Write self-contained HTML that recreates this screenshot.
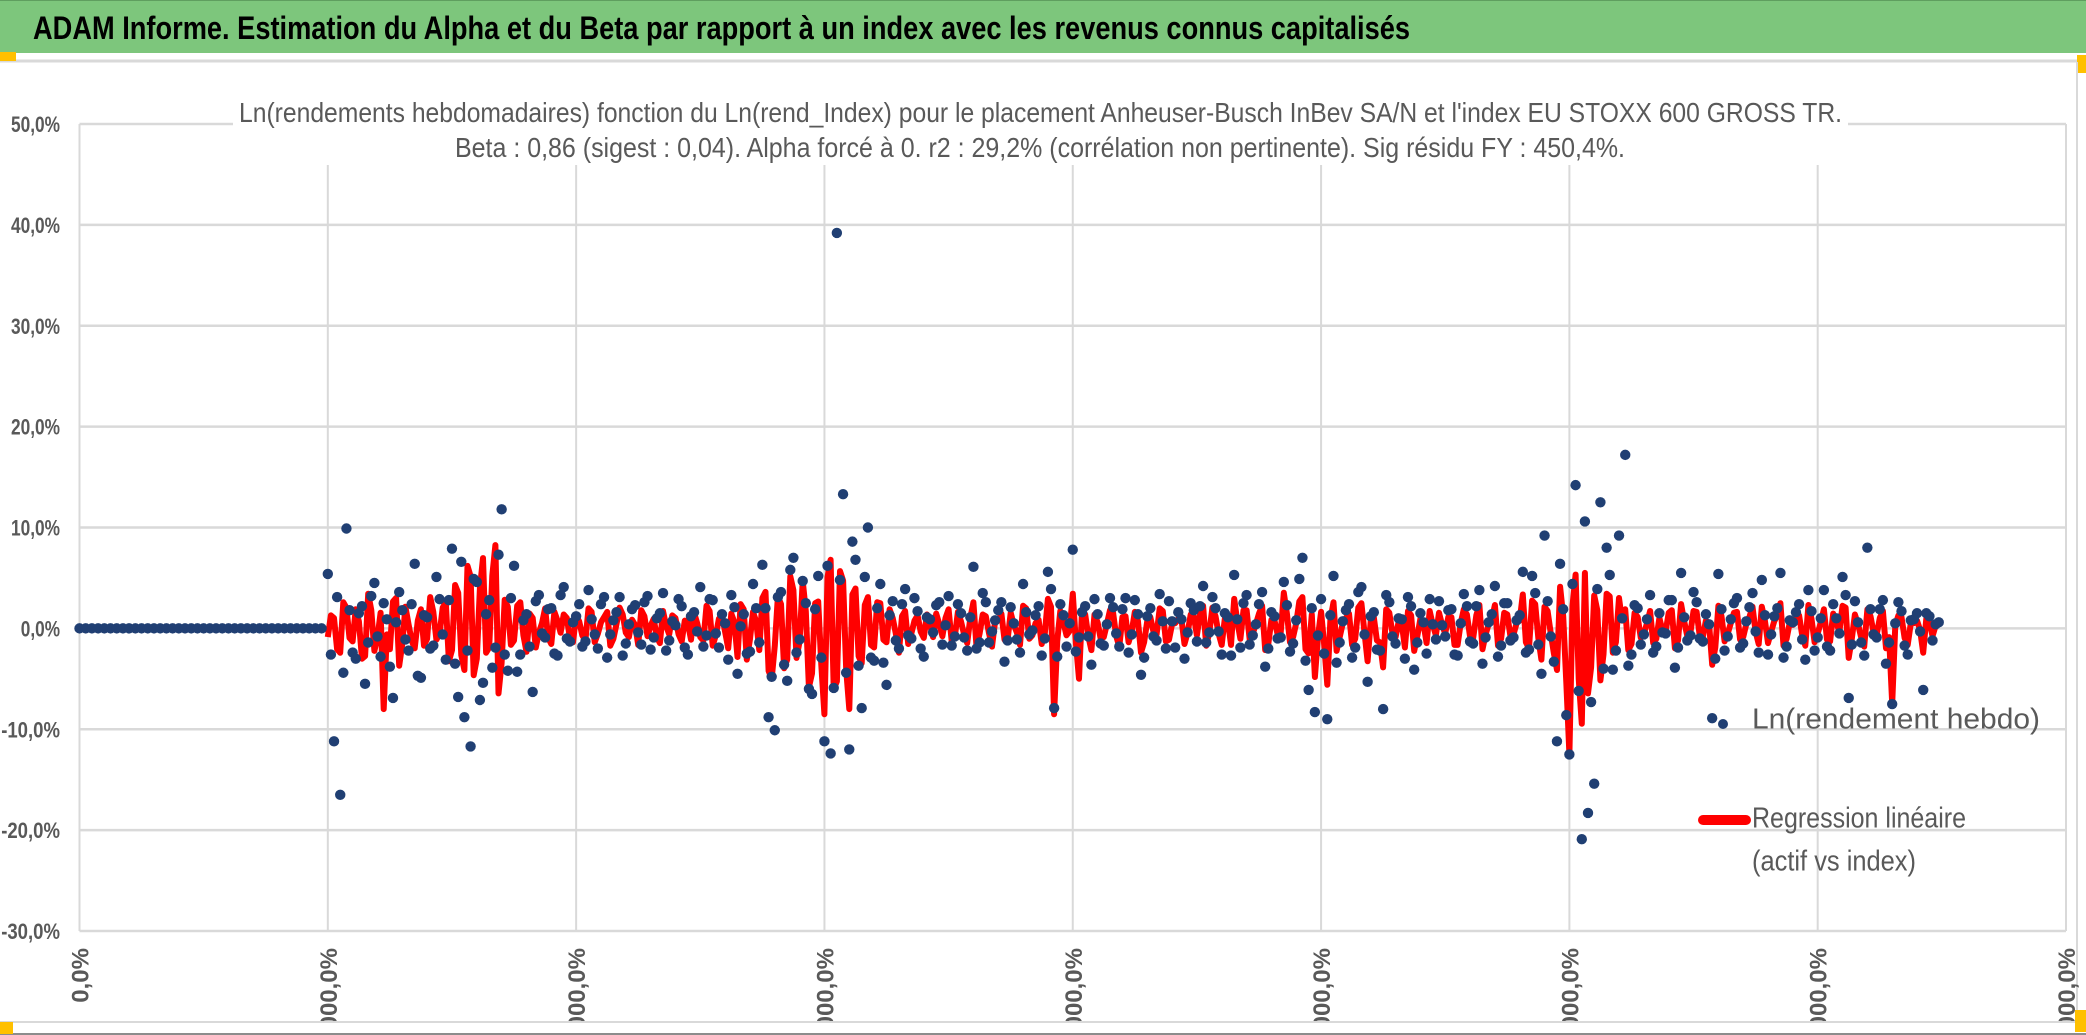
<!DOCTYPE html>
<html><head><meta charset="utf-8"><style>
html,body{margin:0;padding:0;background:#fff;}
svg{display:block;font-family:"Liberation Sans",sans-serif;}
</style></head><body>
<svg id="chart" width="2086" height="1035" viewBox="0 0 2086 1035">
<rect x="0" y="0" width="2086" height="1035" fill="#fff"/>
<rect x="0" y="0" width="2086" height="53" fill="#7dc67c"/>
<line x1="0" y1="0.5" x2="2086" y2="0.5" stroke="#5f9e5f" stroke-width="1"/>
<text x="33" y="39" font-size="32" font-weight="bold" fill="#000" textLength="1377" lengthAdjust="spacingAndGlyphs">ADAM Informe. Estimation du Alpha et du Beta par rapport à un index avec les revenus connus capitalisés</text>
<line x1="0" y1="61" x2="2086" y2="61" stroke="#d9d9d9" stroke-width="3"/>
<rect x="0" y="52" width="16" height="9" fill="#ffc000"/>
<rect x="2077" y="55" width="9" height="18" fill="#ffc000"/>
<rect x="0" y="1022" width="13" height="12" fill="#ffc000"/>
<rect x="2075" y="1010" width="11" height="22" fill="#ffc000"/>
<line x1="2077" y1="62" x2="2077" y2="1022" stroke="#d9d9d9" stroke-width="2"/>
<g id="grid"></g>
<g id="yaxis"></g>
<g id="xaxis"></g>
<g id="reg"></g>
<g id="pts"></g>
<rect x="233" y="85" width="1615" height="80" fill="#fff"/>
<text x="239" y="122" font-size="28" fill="#595959" textLength="1603" lengthAdjust="spacingAndGlyphs">Ln(rendements hebdomadaires) fonction du Ln(rend_Index) pour le placement Anheuser-Busch InBev SA/N et l'index EU STOXX 600 GROSS TR.</text>
<text x="455" y="157" font-size="28" fill="#595959" textLength="1170" lengthAdjust="spacingAndGlyphs">Beta : 0,86 (sigest : 0,04). Alpha forcé à 0. r2 : 29,2% (corrélation non pertinente). Sig résidu FY : 450,4%.</text>
<g>
<circle cx="1723" cy="724" r="5" fill="#203f73"/>
<text x="1752" y="721" dominant-baseline="middle" font-size="29" fill="#595959" textLength="288" lengthAdjust="spacingAndGlyphs">Ln(rendement hebdo)</text>
<line x1="1703" y1="820" x2="1746" y2="820" stroke="#ff0000" stroke-width="10" stroke-linecap="round"/>
<text x="1752" y="820" dominant-baseline="middle" font-size="29" fill="#595959" textLength="214" lengthAdjust="spacingAndGlyphs">Regression linéaire</text>
<text x="1752" y="863" dominant-baseline="middle" font-size="29" fill="#595959" textLength="164" lengthAdjust="spacingAndGlyphs">(actif vs index)</text>
</g>
<rect x="0" y="1023" width="2086" height="12" fill="#fff"/>
<line x1="0" y1="1022" x2="2086" y2="1022" stroke="#d9d9d9" stroke-width="2"/>
<line x1="0" y1="1034" x2="2086" y2="1034" stroke="#8c8c8c" stroke-width="2"/>
<rect x="0" y="1022" width="13" height="12" fill="#ffc000"/>
<rect x="2075" y="1010" width="11" height="22" fill="#ffc000"/>
</svg>
<script>
const yTicks = [50,40,30,20,10,0,-10,-20,-30];
const yTickLabels = ["50,0%","40,0%","30,0%","20,0%","10,0%","0,0%","-10,0%","-20,0%","-30,0%"];
const xTicks = [0,1,2,3,4,5,6,7,8];
const xTickLabels = ["0,0%","1000,0%","2000,0%","3000,0%","4000,0%","5000,0%","6000,0%","7000,0%","8000,0%"];
const weeksPerUnit = 40;
const assetReturns = [
0,0,0,0,0,0,0,0,0,0,0,0,0,0,0,0,0,0,0,0,0,0,0,0,0,0,0,0,0,0,0,0,0,0,0,0,0,0,0,0,
5.4,-11.2,-16.5,9.9,-2.4,1.5,-5.5,3.2,-0.8,2.5,-3.8,0.6,1.8,-2.2,6.4,-4.9,1.1,-1.7,2.9,-3.1,
7.9,-6.8,-8.8,-11.7,4.6,-5.4,2.8,-1.9,11.8,-4.2,6.2,-2.6,1.4,-6.3,3.3,-0.9,2.0,-2.7,4.1,-1.3,
1.2,-1.8,3.8,-0.6,2.4,-2.9,0.8,3.1,-1.5,1.9,-0.4,2.6,-2.1,1.0,3.5,-1.2,0.3,2.2,-2.6,1.6,
4.1,-0.7,2.8,-1.9,0.5,3.3,-4.5,1.4,-2.3,2.0,6.3,-8.8,-10.1,3.6,-5.2,7.0,-1.1,2.5,-6.5,5.2,
-11.2,-12.4,39.2,13.3,-12.0,6.8,-7.9,10.0,-3.2,4.4,-5.6,2.7,-2.0,3.9,-1.0,1.7,-2.8,0.9,2.3,-1.6,
3.2,-0.8,1.5,-2.2,6.1,-1.4,2.6,-0.3,1.8,-3.3,2.1,-1.1,4.4,-0.6,1.3,-2.7,5.6,-7.9,2.4,-1.8,
7.8,-0.9,2.2,-3.6,1.4,-1.7,3.0,-0.5,1.9,-2.4,2.8,-4.6,1.2,-0.8,3.4,-2.0,0.7,1.6,-3.0,2.5,
-1.3,4.2,-0.4,2.0,-2.6,1.1,5.3,-1.9,3.3,-0.7,2.4,-3.8,1.6,-1.0,4.6,-2.3,0.8,7.0,-6.1,-8.3,
2.9,-9.0,5.2,-1.4,1.8,-2.9,3.6,-0.6,1.2,-2.1,-8.0,2.6,-1.5,0.9,3.1,-4.1,1.5,-2.5,0.4,2.7,
-0.8,1.9,-2.7,3.4,-1.3,2.2,-3.5,0.6,4.2,-1.7,2.5,-0.9,1.3,-2.4,5.2,-1.6,9.2,-0.8,-11.2,1.9,
-12.5,14.2,-20.9,-18.3,-15.4,12.5,8.0,-4.1,9.2,17.2,-2.6,2.0,-0.6,3.3,-1.8,-0.4,2.8,-3.9,5.5,-1.2,
3.6,-1.0,1.4,-8.9,5.4,-2.2,0.9,3.0,-1.5,2.1,-0.3,4.8,-2.6,1.2,5.5,-1.8,0.6,2.4,-3.1,1.7,
-0.9,3.8,-2.2,1.0,5.1,-6.9,2.7,-1.4,8.0,-0.6,1.9,-3.5,-7.5,2.6,-1.7,0.8,1.5,-6.1,1.2,0.4
];
const assetReturnsMidweek = [
-2.6,3.1,-4.4,1.8,-3.0,2.2,-1.4,4.5,-2.8,0.9,-6.9,3.6,-1.1,2.4,-4.7,1.3,-2.0,5.1,-0.6,2.8,
-3.5,6.6,-2.2,4.9,-7.1,1.4,-3.9,7.3,-2.6,3.0,-4.3,0.8,-1.8,2.7,-0.5,1.9,-2.5,3.3,-1.0,0.6,
2.4,-1.3,0.9,-2.0,3.1,-0.6,1.6,-2.7,0.4,2.3,-1.6,3.2,-0.9,1.5,-2.2,0.7,2.9,-1.9,1.2,-0.3,
-1.8,2.9,-0.5,1.4,-3.1,2.1,0.2,-2.5,4.4,-1.4,2.0,-4.8,3.1,-3.6,5.8,-2.4,4.7,-6.0,1.9,-2.9,
6.2,-5.9,4.8,-4.4,8.6,-3.7,5.1,-2.9,2.0,-3.4,1.3,-1.2,2.4,-0.7,3.0,-2.0,1.1,-0.4,2.6,0.3,
-1.7,2.4,-0.9,1.1,-2.0,3.5,-1.4,0.8,2.6,-1.2,0.5,-2.4,1.6,-0.2,2.2,-1.0,3.9,-2.8,1.3,0.5,
-2.3,1.6,-0.8,2.9,-1.5,0.4,2.1,-1.8,3.0,-0.6,1.4,-2.9,2.0,-1.2,0.7,2.7,-1.9,0.9,-0.4,1.8,
2.2,-1.4,3.1,-0.3,1.5,-2.7,0.9,2.5,-1.6,0.4,3.6,-2.0,1.2,-0.9,2.3,-1.5,4.9,-3.2,2.0,-0.7,
-2.5,1.3,-3.4,0.7,2.4,-1.9,4.1,-5.3,1.6,-2.2,3.3,-0.8,1.0,-3.0,2.2,-1.4,0.6,2.9,-1.1,0.3,
1.8,-2.6,0.5,2.2,-1.5,3.8,-0.9,1.4,-2.8,2.5,-1.2,0.8,5.6,-2.1,3.5,-4.5,2.7,-3.3,6.4,-8.6,
4.4,-6.2,10.6,-7.3,3.9,-4.0,5.3,-2.2,1.0,-3.7,2.3,-1.6,0.9,-2.4,1.5,-0.5,2.8,-1.9,1.1,-0.7,
2.6,-1.3,0.4,-3.0,1.9,-0.8,2.5,-1.9,0.7,3.5,-2.4,1.3,-0.6,2.0,-2.9,0.8,1.6,-1.1,3.8,-2.2,
1.0,-1.8,2.4,-0.5,3.3,-1.6,0.6,-2.7,1.9,-0.9,2.8,-1.4,0.5,1.7,-2.6,0.9,-0.3,1.5,-1.2,0.6
];
const indexReturns = [
null,null,null,null,null,null,null,null,null,null,null,null,null,null,null,null,null,null,null,null,
null,null,null,null,null,null,null,null,null,null,null,null,null,null,null,null,null,null,null,null,
-1,1.2,-2.8,2.4,-1.5,0.8,-3.2,2.1,-1.0,-9.3,-2.4,3.5,-1.8,0.5,-2.3,2.2,-1.2,1.9,-0.6,3.0,
-2.5,4.1,-4.8,6.0,-3.5,8.1,-2.2,9.6,-4.0,2.5,-1.4,3.0,-2.7,1.2,-0.5,2.3,-1.8,0.9,1.6,-1.1,
1.5,-0.8,2.3,-1.6,0.7,1.9,-1.2,2.4,-0.5,1.0,-1.9,1.4,0.3,-1.0,2.0,-0.7,1.2,-1.5,0.6,1.8,
-1.0,2.6,-2.0,1.1,-0.4,1.7,-3.3,2.2,-1.3,0.8,3.5,-4.9,-2.0,2.8,-3.6,4.4,-1.5,2.0,-5.2,3.1,
-9.9,7.9,-6.1,5.5,-9.3,4.6,-4.0,3.6,-2.2,2.9,-1.6,1.2,-2.8,2.0,-0.6,1.5,-1.1,0.4,1.7,-0.9,
2.2,-1.0,0.8,-1.7,3.0,-0.6,1.4,-2.1,0.9,-1.3,1.8,-0.5,2.6,-1.2,0.6,-1.8,3.4,-9.9,2.0,-0.8,
4.0,-5.8,1.6,-2.5,0.7,-1.0,2.1,-0.9,1.3,-1.6,1.9,-2.8,0.8,-0.4,2.3,-1.5,0.5,1.1,-1.8,1.6,
-0.8,2.6,-0.5,1.4,-1.9,0.9,3.4,-1.2,2.1,-0.6,1.7,-2.5,1.0,-0.7,4.1,-1.6,0.6,3.6,-2.9,-5.6,
1.9,-6.5,3.0,-1.0,1.2,-1.9,2.4,-0.5,0.8,-1.4,-4.5,1.8,-1.0,0.5,2.0,-2.6,1.1,-1.7,0.4,1.8,
-0.6,1.3,-1.9,2.2,-0.9,1.5,-2.4,0.5,2.7,-1.2,1.6,-0.7,0.9,-1.6,3.2,-1.1,2.5,-0.6,-4.8,1.4,
-14.5,6.2,-11.0,-7.5,3.8,-6.0,4.0,-2.8,3.5,2.2,-1.8,1.3,-0.6,2.0,-1.2,-0.3,1.8,-2.3,2.8,-0.9,
2.0,-0.8,0.9,-4.2,2.6,-1.5,0.6,1.9,-1.0,1.3,-0.4,2.5,-1.7,0.8,2.9,-1.2,0.4,1.5,-2.0,1.1,
-0.6,2.2,-1.5,0.7,2.6,-3.4,1.6,-1.0,2.2,-0.5,1.2,-2.3,-8.7,1.5,-1.1,0.6,0.9,-2.8,0.8,0.3
];
const indexReturnsMidweek = [
1.5,-2.4,3.0,-1.1,2.2,-3.5,4.0,-2.6,1.8,-0.7,3.1,-4.3,2.5,-1.4,0.9,-2.0,3.6,-1.3,2.4,-3.8,
5.0,-3.1,7.2,-5.4,4.6,-2.8,6.1,-7.5,3.3,-1.9,2.6,-0.8,1.7,-2.2,0.6,-1.1,1.9,-0.5,1.2,-1.6,
0.8,-1.4,1.9,-0.6,1.3,-2.0,0.5,1.6,-1.0,0.4,2.1,-0.9,1.1,-1.7,0.3,1.5,-0.7,0.9,-1.3,0.6,
-1.4,2.0,-0.8,1.5,-2.3,0.7,2.8,-3.6,1.9,-2.5,4.2,-5.8,3.7,-4.6,6.0,-3.4,5.5,-6.8,2.9,-4.2,
5.9,-7.0,6.6,-4.8,3.9,-3.2,2.7,-1.9,3.0,-1.3,2.2,-0.6,1.4,-1.8,0.9,-0.4,1.6,-1.0,0.5,1.2,
-1.5,1.9,-0.7,1.2,-2.1,1.6,-0.5,0.9,1.7,-1.3,0.4,-1.9,2.3,-0.8,1.0,-0.6,2.5,-1.5,0.7,-0.3,
-1.7,2.2,-0.9,1.6,-1.2,0.5,1.8,-2.1,1.4,-0.4,0.9,-1.6,1.3,-0.7,2.0,-1.3,0.6,1.1,-0.5,1.4,
1.6,-2.0,2.4,-0.6,1.1,-1.9,0.8,2.1,-1.3,0.5,2.6,-1.8,0.9,-0.5,1.7,-1.0,3.1,-2.4,1.6,-0.9,
-1.9,1.0,-2.6,0.6,1.7,-1.2,2.9,-3.8,1.3,-1.6,2.2,-0.6,0.8,-2.2,1.5,-0.9,0.5,2.0,-0.8,0.4,
1.3,-1.9,0.6,1.6,-1.1,2.7,-0.7,1.0,-2.0,1.8,-0.9,0.6,3.9,-2.3,2.8,-3.6,2.0,-2.9,4.8,-6.2,
2.6,-5.8,6.4,-4.5,2.1,-3.0,3.7,-1.6,0.9,-2.5,1.8,-1.1,0.6,-1.7,1.2,-0.4,2.1,-1.4,0.8,-0.5,
1.9,-1.0,0.5,-2.2,1.4,-0.6,1.8,-1.3,0.5,2.5,-1.8,0.9,-0.4,1.5,-2.0,0.7,1.2,-0.8,2.7,-1.6,
0.7,-1.3,1.7,-0.4,2.4,-1.2,0.5,-2.1,1.4,-0.7,2.0,-1.0,0.4,1.3,-1.9,0.6,-0.2,1.1,-0.9,0.4
];
const midweekStart = 40;
const beta = 0.86;

const NS = "http://www.w3.org/2000/svg";
const X0 = 79.5, X1 = 2066, XMIN = 0, XMAX = 8;
const Y0 = 931, Y1 = 124, YMIN = -30, YMAX = 50;
function xScale(u){ return X0 + (u - XMIN) / (XMAX - XMIN) * (X1 - X0); }
function yScale(v){ return Y0 - (v - YMIN) / (YMAX - YMIN) * (Y0 - Y1); }
function mk(tag, attrs, parent){ const e = document.createElementNS(NS, tag); for (const k in attrs) e.setAttribute(k, attrs[k]); parent.appendChild(e); return e; }

const grid = document.getElementById('grid');
yTicks.forEach(function(t, i){
  const l = mk('line', {x1: X0, x2: X1, y1: yScale(t), y2: yScale(t), stroke: '#d9d9d9', 'stroke-width': 2.5}, grid);
  
  
  const tx = mk('text', {x: 60, y: yScale(t) + 8, 'text-anchor': 'end', 'font-size': 22, 'font-weight': 'bold', fill: '#595959', textLength: yTickLabels[i].length * 9.8, lengthAdjust: 'spacingAndGlyphs'}, document.getElementById('yaxis'));
  tx.textContent = yTickLabels[i];
  
  
});
xTicks.forEach(function(t, i){
  const l = mk('line', {x1: xScale(t), x2: xScale(t), y1: Y1, y2: Y0, stroke: '#d9d9d9', 'stroke-width': 2}, grid);
  
  
  const cx = xScale(t) + 9, ty = 948;
  const tx = mk('text', {x: cx, y: ty, 'text-anchor': 'end', 'font-size': 24, 'font-weight': 'bold', fill: '#595959', transform: 'rotate(-90 ' + cx + ' ' + ty + ')'}, document.getElementById('xaxis'));
  tx.textContent = xTickLabels[i];
  
  
});

// combined chronological series for the regression line
const regPts = [];
indexReturns.forEach(function(v, i){
  if (v === null) return;
  regPts.push([i, v]);
  const m = i - midweekStart;
  if (m >= 0 && m < indexReturnsMidweek.length) regPts.push([i + 0.5, indexReturnsMidweek[m]]);
});
const reg = document.getElementById('reg');
let d = '';
regPts.forEach(function(p){
  const px = xScale(p[0] / weeksPerUnit), py = yScale(beta * p[1]);
  d += (d === '' ? 'M' : 'L') + px.toFixed(1) + ' ' + py.toFixed(1);
});
const rp = mk('path', {d: d, fill: 'none', stroke: '#ff0000', 'stroke-width': 6, 'stroke-linejoin': 'round'}, reg);



// asset points
const pts = document.getElementById('pts');
assetReturns.forEach(function(v, i){
  const c = mk('circle', {cx: xScale(i / weeksPerUnit), cy: yScale(v), r: 5.2, fill: '#203f73'}, pts);
  
  
});
assetReturnsMidweek.forEach(function(v, j){
  const c = mk('circle', {cx: xScale((j + midweekStart + 0.5) / weeksPerUnit), cy: yScale(v), r: 5.2, fill: '#203f73'}, pts);
  
  
});
</script>
</body></html>
